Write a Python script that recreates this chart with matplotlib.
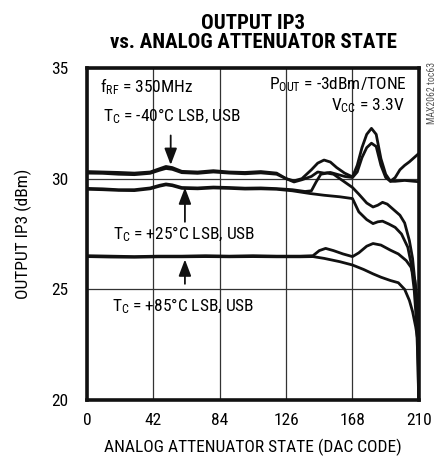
import matplotlib
matplotlib.use('Agg')
import matplotlib.pyplot as plt
from matplotlib import font_manager

names = set(f.name for f in font_manager.fontManager.ttflist)
narrow = [n for n in ['Roboto Condensed', 'DejaVu Sans Condensed', 'Liberation Sans Narrow', 'Open Sans Condensed']
          if n in names]
plt.rcParams['font.family'] = narrow[:1] + ['Liberation Sans', 'DejaVu Sans']
plt.rcParams['mathtext.default'] = 'regular'
plt.rcParams['mathtext.fontset'] = 'custom'
plt.rcParams['mathtext.rm'] = (narrow[:1] + ['Liberation Sans'])[0]

# tick values
x_ticks = [0, 42, 84, 126, 168, 210]
y_ticks = [20, 25, 30, 35]

# TC = -40C
m40_lsb_x = [0, 10, 20, 30, 40, 46, 50, 54, 60, 70, 80, 90, 100, 110, 120, 126, 131, 136, 142, 146,
             150, 154, 158, 163, 168, 171, 174, 177, 180, 183, 186, 189, 192, 195, 198, 201, 204, 207, 210]
m40_lsb_y = [30.32, 30.3, 30.28, 30.25, 30.3, 30.45, 30.55, 30.5, 30.33, 30.3, 30.36, 30.3, 30.28, 30.32,
             30.25, 30.0, 29.9, 30.0, 30.4, 30.7, 30.84, 30.75, 30.5, 30.25, 30.08, 30.6, 31.4, 32.0, 32.27,
             32.0, 30.9, 30.2, 29.88, 30.05, 30.4, 30.6, 30.76, 30.95, 31.14]
m40_usb_x = m40_lsb_x
m40_usb_y = [30.25, 30.24, 30.2, 30.18, 30.24, 30.38, 30.46, 30.42, 30.27, 30.24, 30.3, 30.25, 30.22, 30.26,
             30.2, 30.0, 29.85, 29.95, 30.1, 30.3, 30.25, 30.28, 30.2, 30.1, 30.05, 30.3, 30.95, 31.4, 31.6,
             31.45, 30.6, 30.05, 29.88, 29.88, 29.9, 29.92, 29.9, 29.88, 29.86]

# TC = +25C
p25_lsb_x = [0, 10, 20, 30, 40, 46, 50, 54, 60, 70, 80, 90, 100, 110, 120, 130, 138, 142, 145, 148, 152,
             156, 160, 164, 168, 172, 177, 181, 184, 187, 190, 194, 198, 201, 204, 206, 208, 209, 210]
p25_lsb_y = [29.56, 29.54, 29.5, 29.5, 29.58, 29.7, 29.76, 29.72, 29.6, 29.58, 29.62, 29.6, 29.57, 29.58,
             29.55, 29.5, 29.42, 29.45, 29.85, 30.2, 30.25, 30.2, 30.0, 29.8, 29.6, 29.3, 28.9, 28.72, 28.8,
             28.93, 28.85, 28.6, 28.35, 28.0, 27.2, 26.4, 25.0, 23.0, 19.5]
p25_usb_x = [0, 10, 20, 30, 40, 46, 50, 54, 60, 70, 80, 90, 100, 110, 120, 130, 141, 150, 160, 168, 172,
             177, 181, 184, 187, 191, 195, 199, 203, 205, 207, 208.5, 209.5, 210]
p25_usb_y = [29.52, 29.5, 29.47, 29.46, 29.54, 29.66, 29.72, 29.68, 29.56, 29.54, 29.58, 29.56, 29.53,
             29.54, 29.52, 29.45, 29.33, 29.25, 29.18, 29.1, 28.5, 28.15, 27.97, 28.05, 28.08, 27.95, 27.8,
             27.5, 26.9, 26.2, 25.0, 23.5, 21.5, 19.5]

# TC = +85C
p85_lsb_x = [0, 15, 30, 45, 60, 75, 90, 105, 120, 135, 143, 147, 151, 156, 162, 168, 172, 177, 181, 186,
             192, 197, 202, 205, 207.5, 210]
p85_lsb_y = [26.52, 26.5, 26.48, 26.5, 26.5, 26.52, 26.5, 26.52, 26.5, 26.5, 26.52, 26.75, 26.85, 26.75,
             26.6, 26.48, 26.65, 26.95, 27.07, 27.0, 26.77, 26.6, 26.3, 26.0, 25.4, 23.9]
p85_usb_x = [0, 15, 30, 45, 60, 75, 90, 105, 120, 135, 143, 150, 160, 168, 175, 181, 186, 192, 197, 201,
             204, 206, 208, 210]
p85_usb_y = [26.48, 26.46, 26.45, 26.47, 26.47, 26.48, 26.47, 26.48, 26.47, 26.47, 26.48, 26.4, 26.25,
             26.1, 25.9, 25.7, 25.55, 25.4, 25.3, 25.0, 24.5, 24.0, 23.3, 22.4]

curves = [(m40_lsb_x, m40_lsb_y), (m40_usb_x, m40_usb_y),
          (p25_lsb_x, p25_lsb_y), (p25_usb_x, p25_usb_y),
          (p85_lsb_x, p85_lsb_y), (p85_usb_x, p85_usb_y)]

fs = 12.5 if narrow else 11

fig = plt.figure(figsize=(4.48, 4.62), dpi=100)
ax = fig.add_axes([0.194, 0.134, 0.741, 0.719])

for xs, ys in curves:
    ax.plot(xs, ys, color='#111111', lw=2.0, solid_capstyle='round')

ax.set_xlim(0, 210)
ax.set_ylim(20, 35)
ax.set_xticks(x_ticks)
ax.set_yticks(y_ticks)
ax.tick_params(length=0, labelsize=fs)
ax.tick_params(axis='y', pad=13)
ax.tick_params(axis='x', pad=9)
ax.grid(True, color='#333333', lw=0.9)
for s in ax.spines.values():
    s.set_linewidth(2.6)
    s.set_color('#111111')

ax.set_xlabel('ANALOG ATTENUATOR STATE (DAC CODE)', fontsize=fs, labelpad=8)
ax.set_ylabel('OUTPUT IP3 (dBm)', fontsize=fs, labelpad=14)

fig.text(0.565, 0.887, 'OUTPUT IP3\nvs. ANALOG ATTENUATOR STATE', ha='center', va='bottom',
         fontsize=fs + 2.5, fontweight='bold', linespacing=1.02)

ax.text(8, 34.15, 'f$_{RF}$ = 350MHz', fontsize=fs, va='center', ha='left')
ax.text(202, 34.25, 'P$_{OUT}$ = -3dBm/TONE', fontsize=fs, va='center', ha='right')
ax.text(201, 33.3, 'V$_{CC}$ = 3.3V', fontsize=fs, va='center', ha='right')
ax.text(10, 32.8, 'T$_{C}$ = -40°C LSB, USB', fontsize=fs, va='center', ha='left')
ax.text(16.5, 27.5, 'T$_{C}$ = +25°C LSB, USB', fontsize=fs, va='center', ha='left')
ax.text(16, 24.25, 'T$_{C}$ = +85°C LSB, USB', fontsize=fs, va='center', ha='left')

arrow = dict(arrowstyle='-|>,head_length=1.0,head_width=0.38', color='#111111', lw=1.3,
             shrinkA=0, shrinkB=0)
ax.annotate('', xy=(53, 30.62), xytext=(53, 31.95), arrowprops=arrow)
ax.annotate('', xy=(62, 29.6), xytext=(62, 28.05), arrowprops=arrow)
ax.annotate('', xy=(62, 26.35), xytext=(62, 25.25), arrowprops=arrow)

fig.text(0.965, 0.865, 'MAX2062 toc63', rotation=90, ha='center', va='top', fontsize=7, color='#555555')

plt.savefig('out.png', dpi=100)
